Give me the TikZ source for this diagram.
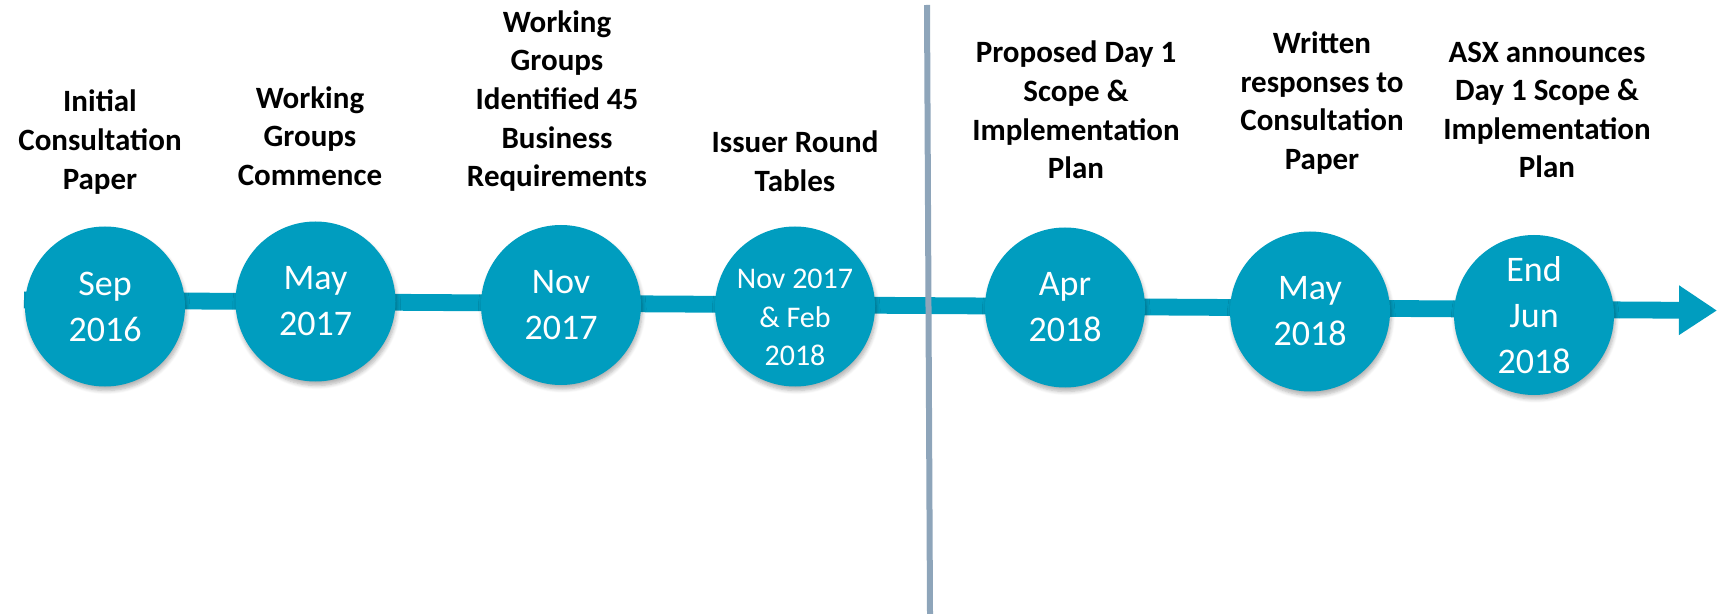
\documentclass[tikz,border=0pt]{standalone}
\usepackage{fontspec}
\setmainfont{Carlito}
\usetikzlibrary{arrows.meta,shadows.blur}
\definecolor{asxteal}{RGB}{0,157,191}
\definecolor{divgray}{RGB}{142,165,186}
\tikzset{
  event/.style={circle,fill=asxteal,minimum size=80pt,inner sep=0pt,
    blur shadow={shadow xshift=0.6pt,shadow yshift=-2pt,shadow blur steps=6,shadow opacity=30}},
  datetext/.style={text=white,align=center,inner sep=0pt,font=\fontsize{18}{23}\selectfont},
  smalldate/.style={datetext,font=\fontsize{15}{19.25}\selectfont},
  eventlabel/.style={align=center,inner sep=0pt,font=\bfseries\fontsize{15.5}{19.3}\selectfont}
}
\begin{document}
\begin{tikzpicture}[x=0.5pt,y=0.5pt,yscale=-1,xscale=1]
\useasboundingbox (0,0) rectangle (1717,614);

%Arrow line
\coordinate (lstart) at (24,300);
\coordinate (ltip) at (1717,310.5);
\draw [asxteal,line width=8.4pt,-{Triangle[length=19pt,width=23.5pt]}] (lstart) -- (ltip);

%Divider
\coordinate (dtop) at (927,5);
\coordinate (dbot) at (930,614);
\draw [divgray,line width=3pt] (dtop) -- (dbot);

%Circles
\node [event] (c1) at (105,306.5) {};
\node [event] (c2) at (315.5,301.5) {};
\node [event] (c3) at (561,305) {};
\node [event] (c4) at (795,306.5) {};
\node [event] (c5) at (1065,307.5) {};
\node [event] (c6) at (1310,311.5) {};
\node [event] (c7) at (1534,315) {};

% Date Nodes
\node [datetext] (t1) at (c1) {Sep\\2016};
\node [datetext] (t2) at (c2) {May\\2017};
\node [datetext] (t3) at (c3) {Nov\\2017};
\node [smalldate] (t4) at ([yshift=5.5pt]c4) {Nov 2017\\\& Feb\\2018};
\node [datetext] (t5) at (c5) {Apr\\2018};
\node [datetext] (t6) at (c6) {May\\2018};
\node [datetext] (t7) at (c7) {End\\Jun\\2018};

% Text Nodes
\node [eventlabel] (l1) at (100,142) {Initial\\Consultation\\Paper};
\node [eventlabel] (l2) at (310,136) {Working\\Groups\\Commence};
\node [eventlabel] (l3) at (557,101) {Working\\Groups\\Identified 45\\Business\\Requirements};
\node [eventlabel] (l4) at (795,161) {Issuer Round\\Tables};
\node [eventlabel] (l5) at (1076,110) {Proposed Day 1\\Scope \&\\Implementation\\Plan};
\node [eventlabel] (l6) at (1322,103) {Written\\responses to\\Consultation\\Paper};
\node [eventlabel] (l7) at (1547,110) {ASX announces\\Day 1 Scope \&\\Implementation\\Plan};

\end{tikzpicture}
\end{document}
